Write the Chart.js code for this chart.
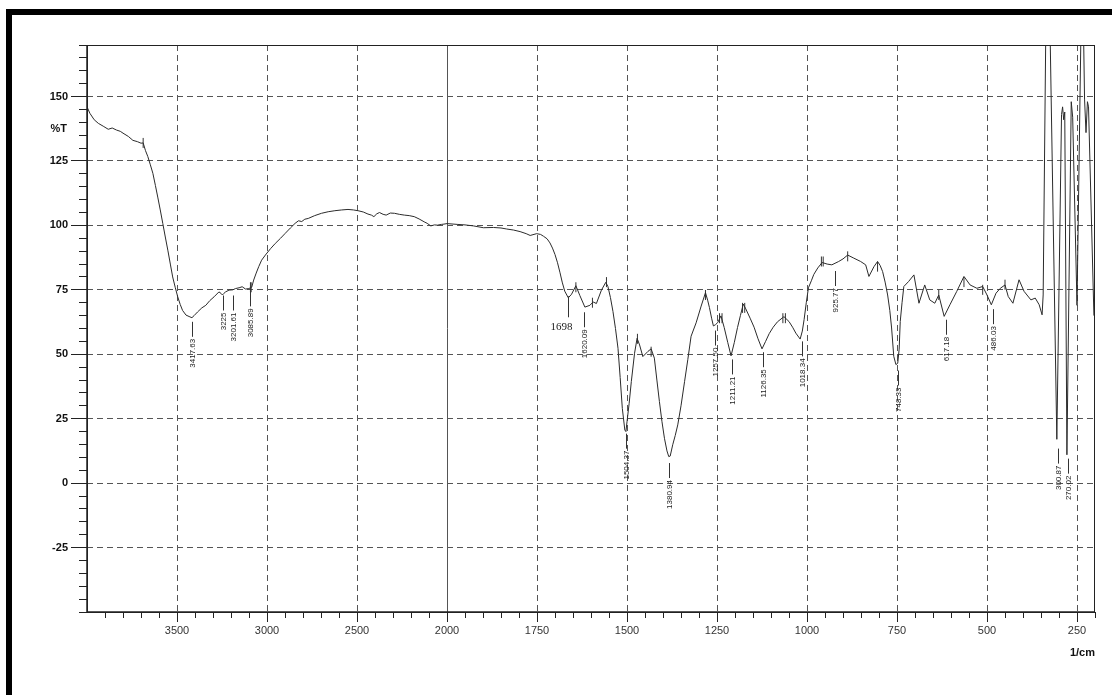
<!DOCTYPE html>
<html>
<head>
<meta charset="utf-8">
<script src="https://cdn.jsdelivr.net/npm/chart.js@4.4.0/dist/chart.umd.min.js"></script>
<style>
  html, body { margin: 0; padding: 0; background: #fff; }
  #wrap { position: relative; width: 1112px; height: 695px; overflow: hidden; }
  #wrap:before { content: ''; position: absolute; left: 6px; top: 9px; right: 0; bottom: 0;
    border-top: 6px solid #000; border-left: 6px solid #000; z-index: 2; pointer-events: none; }
  canvas { position: absolute; left: 0; top: 0; }
</style>
</head>
<body>
<div id="wrap"><canvas id="ir" width="1112" height="695"></canvas></div>
<script>
// IR spectrum, %T against wavenumber (1/cm); scale changes at 2000
const X_MAX = 4000, X_MIN = 200, X_BREAK = 2000;

const wavenumbers = [
  4000, 3984, 3960, 3937, 3910, 3882, 3860, 3836, 3815, 3800, 3770, 3745, 3720, 3700, 3688, 3675,
  3662, 3648, 3634, 3620, 3607, 3593, 3579, 3565, 3551, 3537, 3524, 3510, 3496, 3482, 3469, 3450,
  3428, 3417, 3405, 3386, 3362, 3340, 3318, 3294, 3267, 3255, 3248, 3240, 3230, 3211, 3190, 3175,
  3155, 3138, 3119, 3101, 3085, 3074, 3060, 3046, 3030, 3009, 2980, 2954, 2925, 2899, 2870, 2844,
  2825, 2807, 2790, 2771, 2735, 2697, 2660, 2623, 2585, 2550, 2520, 2494, 2465, 2439, 2420, 2406,
  2390, 2375, 2355, 2338, 2315, 2292, 2265, 2237, 2210, 2182, 2155, 2127, 2110, 2090, 2070, 2053,
  2030, 2017, 2000, 1972, 1950, 1926, 1899, 1871, 1850, 1834, 1815, 1797, 1780, 1769, 1751, 1740,
  1732, 1722, 1714, 1707, 1700, 1693, 1686, 1680, 1673, 1663, 1654, 1642, 1631, 1617, 1603, 1594,
  1585, 1571, 1559, 1553, 1546, 1539, 1532, 1525, 1519, 1513, 1506, 1503, 1500, 1494, 1488, 1479,
  1472, 1465, 1456, 1442, 1433, 1424, 1417, 1410, 1403, 1396, 1389, 1384, 1380, 1373, 1366, 1359,
  1350, 1340, 1331, 1322, 1308, 1294, 1282, 1276, 1271, 1265, 1260, 1254, 1248, 1239, 1230, 1220,
  1211, 1202, 1193, 1185, 1177, 1170, 1158, 1147, 1136, 1125, 1115, 1105, 1094, 1082, 1064, 1050,
  1040, 1031, 1019, 1013, 1008, 1002, 996, 988, 981, 970, 958, 944, 931, 912, 900, 887,
  870, 851, 837, 828, 814, 804, 797, 790, 783, 776, 770, 765, 759, 753, 748, 744,
  741, 736, 731, 718, 703, 689, 673, 659, 645, 634, 619, 603, 584, 564, 547, 528,
  512, 500, 488, 475, 463, 450, 441, 428, 411, 397, 378, 366, 355, 347, 344, 336,
  326, 306, 293, 290, 287, 284, 278, 266, 262, 250, 238, 233, 229, 225, 221, 218,
  203
];
const transmittance = [
  146, 143.5, 141, 139.6, 138.5, 137.3, 137.8, 137, 136.5, 135.8, 134.5, 133, 132.5, 131.9, 132, 129,
  126.7, 123.5, 120.2, 115.5, 111, 106, 100.8, 95.5, 90.4, 85, 80, 76, 72.3, 69.3, 67, 65.2,
  64.5, 64.2, 65, 66.4, 68, 69, 70.8, 72.3, 74.2, 73.6, 73, 73.6, 74.2, 74.9, 75, 75.5,
  75.8, 76.2, 75.3, 75.5, 76, 78.8, 81.5, 84, 86.5, 88.5, 91, 93, 95, 96.9, 99, 100.8,
  101.8, 101.5, 102.4, 102.7, 103.8, 104.7, 105.3, 105.7, 106, 106.2, 106, 105.7, 105.2, 104.4, 104, 103.4,
  104.5, 105, 104.3, 104, 104.8, 104.7, 104.3, 104, 103.8, 103.4, 102.5, 101.4, 100.8, 99.8, 100.2, 100.1,
  100.4, 100.5, 100.7, 100.4, 100.2, 99.8, 99.1, 99.2, 99, 98.6, 98.2, 97.6, 96.8, 96.1, 96.8, 96.5,
  95.8, 94.8, 93.2, 91.2, 88.7, 85.5, 81.6, 78, 74.5, 71.9, 73.3, 76.6, 72.8, 68.3, 69, 70.3,
  69.7, 74.9, 77.9, 76.3, 72, 66.6, 60, 52.3, 41, 29, 20.6, 20, 23.8, 31, 39.4, 50.4,
  56.2, 53.6, 49.1, 51.1, 52.1, 48.5, 40, 31.7, 24, 17.4, 12.5, 10.3, 10.5, 14.9, 18.5, 22.6,
  30, 39.5, 48, 57, 62.2, 68.7, 73.9, 71, 68.1, 64, 61, 61.5, 62.3, 64.9, 60.4, 54.5,
  49.4, 54.5, 60.4, 65, 69.5, 67.6, 64, 60.5, 56, 52.1, 55, 58, 60.5, 62.6, 64.6, 62.7,
  60.5, 58.2, 55.9, 59, 63.5, 70, 75.8, 78.5, 81, 83.5, 85.6, 85, 84.7, 86, 87, 88.5,
  87.3, 86, 84.7, 80.2, 84, 86, 84.5, 82.1, 78, 73, 67, 60.2, 49.2, 46, 46.5, 52,
  62.7, 70, 76.3, 78.2, 80.8, 69.8, 76.9, 71.1, 69.8, 73, 64.7, 69.2, 74.4, 80.2, 76.9, 75.6,
  76.3, 73, 69.2, 73.7, 75.6, 76.9, 72.4, 69.8, 78.9, 74.4, 71.1, 71.8, 69.2, 65.3, 73, 185,
  185, 17, 143, 146, 141, 144, 11, 148, 142, 69, 185, 185, 149, 136, 148, 146,
  65
];

// little peak marks the instrument prints on the trace
const markWn = [3688, 3092, 3088, 1642, 1596, 1557, 1471, 1433, 1282, 1243, 1236, 1179, 1173,
  1067, 1060, 960, 955, 887, 804, 634, 564, 512, 450];
const markT = [132, 76, 76, 76, 70, 78, 56, 51, 73, 64, 64, 68, 68,
  64, 64, 86, 86, 88, 84, 73, 78, 75, 77];

// peak picks: label, where it sits on the x axis, %T at the top of its leader
const peakLabels = ['3417.63', '3225', '3201.61', '3085.89', '1698', '1620.09', '1504.37', '1380.94',
  '1257.50', '1211.21', '1126.35', '1018.34', '925.77', '748.33', '617.18', '486.03', '300.87', '270.02'];
const peakWn = [3417, 3244, 3189, 3094, 1664, 1619, 1503, 1383,
  1256, 1208, 1122, 1014, 922, 747, 614, 483, 302, 274];
const peakT = [62.6, 72.8, 72.8, 74.4, 72.5, 66.3, 19.2, 7.8,
  59.2, 48, 50.8, 55, 82.3, 43.7, 63.4, 67.5, 13.4, 9.5];
const handLabel = '1698';

const xMajorTicks = [3500, 3000, 2500, 2000, 1750, 1500, 1250, 1000, 750, 500, 250];
const yMajorTicks = [150, 125, 100, 75, 50, 25, 0, -25];
const yUnitLabel = '%T', yUnitAt = 137.5;
const xUnitLabel = '1/cm';

const xMinorTicks = [];
for (let v = 3900; v > X_BREAK; v -= 100) xMinorTicks.push(v);
for (let v = X_BREAK; v >= X_MIN; v -= 50) xMinorTicks.push(v);
const yMinorTicks = [];
for (let v = -50; v <= 170; v += 5) yMinorTicks.push(v);

// x scale: 4000-2000 compressed to half the density of 2000-200
class IrScale extends Chart.LinearScale {
  static id = 'irscale';
  static defaults = Chart.LinearScale.defaults;
  _span() { return (X_MAX - X_BREAK) / 2 + (X_BREAK - X_MIN); }
  _unit(v) { return v >= X_BREAK ? (X_MAX - v) / 2 : (X_MAX - X_BREAK) / 2 + (X_BREAK - v); }
  getPixelForValue(v) { return this.left + this._unit(v) / this._span() * this.width; }
  getValueForPixel(p) {
    const u = (p - this.left) / this.width * this._span();
    const hi = (X_MAX - X_BREAK) / 2;
    return u <= hi ? X_MAX - u * 2 : X_BREAK - (u - hi);
  }
}
Chart.register(IrScale);

const FONT = 'Liberation Sans, Arial, sans-serif';
const dash = [6, 4];

const frame = {
  id: 'frame',
  afterDraw(chart) {
    const { ctx, chartArea: a } = chart;
    ctx.save();
    ctx.strokeStyle = '#222';
    ctx.lineWidth = 1;
    ctx.strokeRect(a.left + 0.5, a.top + 0.5, a.right - a.left - 1, a.bottom - a.top);
    ctx.lineWidth = 1.5;
    ctx.beginPath();
    ctx.moveTo(a.left, a.top); ctx.lineTo(a.left, a.bottom); ctx.lineTo(a.right, a.bottom);
    ctx.stroke();
    ctx.restore();
  }
};

const peakPicks = {
  id: 'peakPicks',
  afterDatasetsDraw(chart) {
    const { ctx, scales: { x, y } } = chart;
    ctx.save();
    ctx.strokeStyle = '#333';
    ctx.fillStyle = '#222';
    ctx.lineWidth = 1;
    peakLabels.forEach((lab, i) => {
      const px = Math.round(x.getPixelForValue(peakWn[i])) + 0.5;
      const py = y.getPixelForValue(peakT[i]);
      const len = lab === handLabel ? 21 : 15;
      ctx.beginPath();
      ctx.moveTo(px, py); ctx.lineTo(px, py + len);
      ctx.stroke();
      if (lab === handLabel) {
        ctx.font = '11px "Liberation Serif", serif';
        ctx.textAlign = 'center';
        ctx.textBaseline = 'top';
        ctx.fillText(lab, px - 7, py + len + 4);
      } else {
        ctx.save();
        ctx.translate(px, py + len + 2);
        ctx.rotate(-Math.PI / 2);
        ctx.font = '8px ' + FONT;
        ctx.textAlign = 'right';
        ctx.textBaseline = 'middle';
        ctx.fillText(lab, 0, 0);
        ctx.restore();
      }
    });
    ctx.font = 'bold 11px ' + FONT;
    ctx.fillStyle = '#111';
    ctx.textAlign = 'right';
    ctx.textBaseline = 'middle';
    ctx.fillText(yUnitLabel, y.right - 20, y.getPixelForValue(yUnitAt));
    ctx.restore();
  }
};

new Chart(document.getElementById('ir'), {
  type: 'line',
  data: {
    datasets: [
      {
        data: wavenumbers.map((w, i) => ({ x: w, y: transmittance[i] })),
        borderColor: '#2b2b2b',
        borderWidth: 1,
        pointRadius: 0,
        tension: 0
      },
      {
        data: markWn.map((w, i) => ({ x: w, y: markT[i] })),
        showLine: false,
        pointStyle: 'line',
        rotation: 90,
        pointRadius: 5,
        borderColor: '#333',
        borderWidth: 1
      }
    ]
  },
  options: {
    responsive: false,
    devicePixelRatio: 1,
    animation: false,
    layout: { padding: { left: 0, top: 45, right: 17, bottom: 0 } },
    plugins: { legend: { display: false }, tooltip: { enabled: false } },
    scales: {
      y: {
        type: 'linear', position: 'left', weight: 1, min: -50, max: 170,
        afterBuildTicks: s => { s.ticks = yMajorTicks.map(v => ({ value: v })); },
        afterFit: s => { s.width = 87; },
        ticks: { color: '#111', font: { family: FONT, size: 11, weight: 'bold' }, padding: 3,
          callback: v => String(v) },
        grid: { color: '#555', lineWidth: 1, tickLength: 16, tickColor: '#222' },
        border: { display: false, dash: dash }
      },
      yMinor: {
        type: 'linear', position: 'left', weight: 0, min: -50, max: 170,
        afterBuildTicks: s => { s.ticks = yMinorTicks.map(v => ({ value: v })); },
        afterFit: s => { s.width = 0; },
        ticks: { display: false },
        grid: { drawOnChartArea: false, tickLength: 8, tickColor: '#222' },
        border: { display: false }
      },
      x: {
        type: 'irscale', position: 'bottom', weight: 1, min: X_MIN, max: X_MAX,
        afterBuildTicks: s => { s.ticks = xMajorTicks.map(v => ({ value: v })); },
        afterFit: s => { s.height = 83; },
        ticks: { color: '#333', font: { family: FONT, size: 11 }, padding: 2,
          maxRotation: 0, autoSkip: false, callback: v => String(v) },
        grid: { color: '#555', lineWidth: 1, tickLength: 10, tickColor: '#222' },
        border: { display: false, dash: c => (c.tick && c.tick.value === X_BREAK) ? [] : dash },
        title: { display: true, text: xUnitLabel, align: 'end', color: '#111',
          font: { family: FONT, size: 11, weight: 'bold' }, padding: { top: 0, bottom: 35 } }
      },
      xMinor: {
        type: 'irscale', position: 'bottom', weight: 0, min: X_MIN, max: X_MAX,
        afterBuildTicks: s => { s.ticks = xMinorTicks.map(v => ({ value: v })); },
        afterFit: s => { s.height = 0; },
        ticks: { display: false },
        grid: { drawOnChartArea: false, tickLength: 6, tickColor: '#222' },
        border: { display: false }
      }
    }
  },
  plugins: [frame, peakPicks]
});
</script>
</body>
</html>
